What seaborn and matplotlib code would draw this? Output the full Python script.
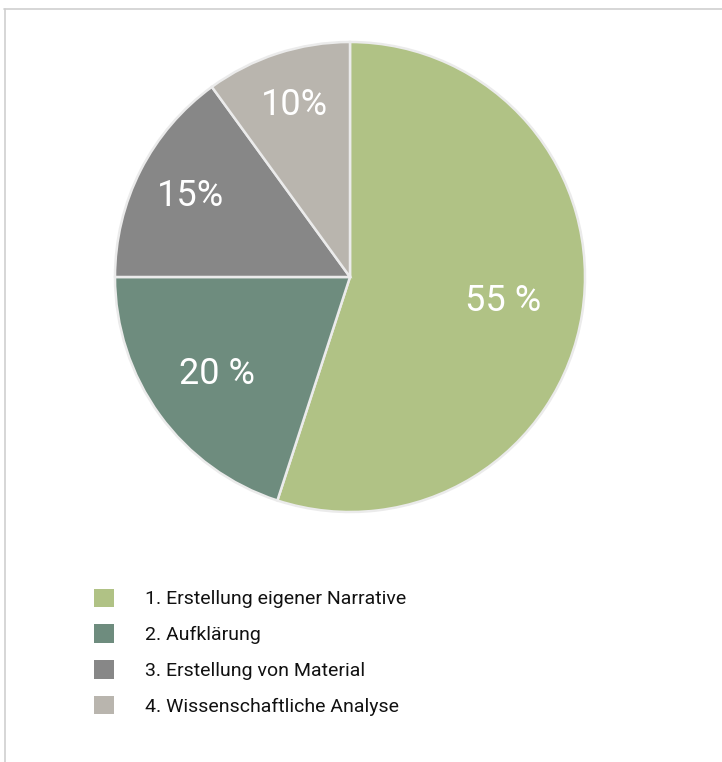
import matplotlib
matplotlib.use("Agg")
import matplotlib.pyplot as plt
from matplotlib.patches import Patch
from matplotlib.lines import Line2D
import seaborn as sns
import numpy as np

# chart data
categories = ["1. Erstellung eigener Narrative", "2. Aufklärung",
              "3. Erstellung von Material", "4. Wissenschaftliche Analyse"]
shares = [55, 20, 15, 10]
pct_labels = ["55 %", "20 %", "15%", "10%"]
label_dist = [0.66, 0.70, 0.76, 0.77]
colors = ["#b0c285", "#6e8c7e", "#878787", "#b9b5ae"]

sns.set_theme(style="white")
plt.rcParams["font.family"] = ["Liberation Sans Narrow", "Roboto", "DejaVu Sans"]

W, H = 722, 762
fig = plt.figure(figsize=(W / 100, H / 100), dpi=100)
fig.patch.set_facecolor("white")

# pie axes: centre (350, 277), radius ~235 px
cx, cy, r = 350, 277, 235
ax = fig.add_axes([(cx - r) / W, (H - cy - r) / H, 2 * r / W, 2 * r / H])
wedges, _ = ax.pie(shares, colors=colors, startangle=90, counterclock=False,
                   wedgeprops=dict(edgecolor="#ebebeb", linewidth=1.8))
ax.set_xlim(-1.0, 1.0)
ax.set_ylim(-1.0, 1.0)
ax.set_aspect("equal")
ax.axis("off")

# percentage labels inside the wedges
for w, txt, d in zip(wedges, pct_labels, label_dist):
    ang = np.deg2rad((w.theta1 + w.theta2) / 2)
    ax.text(d * np.cos(ang), d * np.sin(ang), txt, color="white",
            fontsize=26, ha="center", va="center")

# legend
handles = [Patch(facecolor=c, edgecolor="none") for c in colors]
fig.legend(handles, categories, loc="upper left",
           bbox_to_anchor=(76 / W, 1 - 571 / H), frameon=False,
           fontsize=14, handlelength=1.05, handleheight=1.05,
           handletextpad=1.6, labelspacing=0.84, labelcolor="#111111")

# thin frame lines at top and left
fig.add_artist(Line2D([4 / W, 1], [1 - 8.5 / H, 1 - 8.5 / H], color="#cfcfcf", lw=1.2))
fig.add_artist(Line2D([4.5 / W, 4.5 / W], [0, 1 - 8.5 / H], color="#cfcfcf", lw=1.2))

fig.savefig("out.png", dpi=100)
